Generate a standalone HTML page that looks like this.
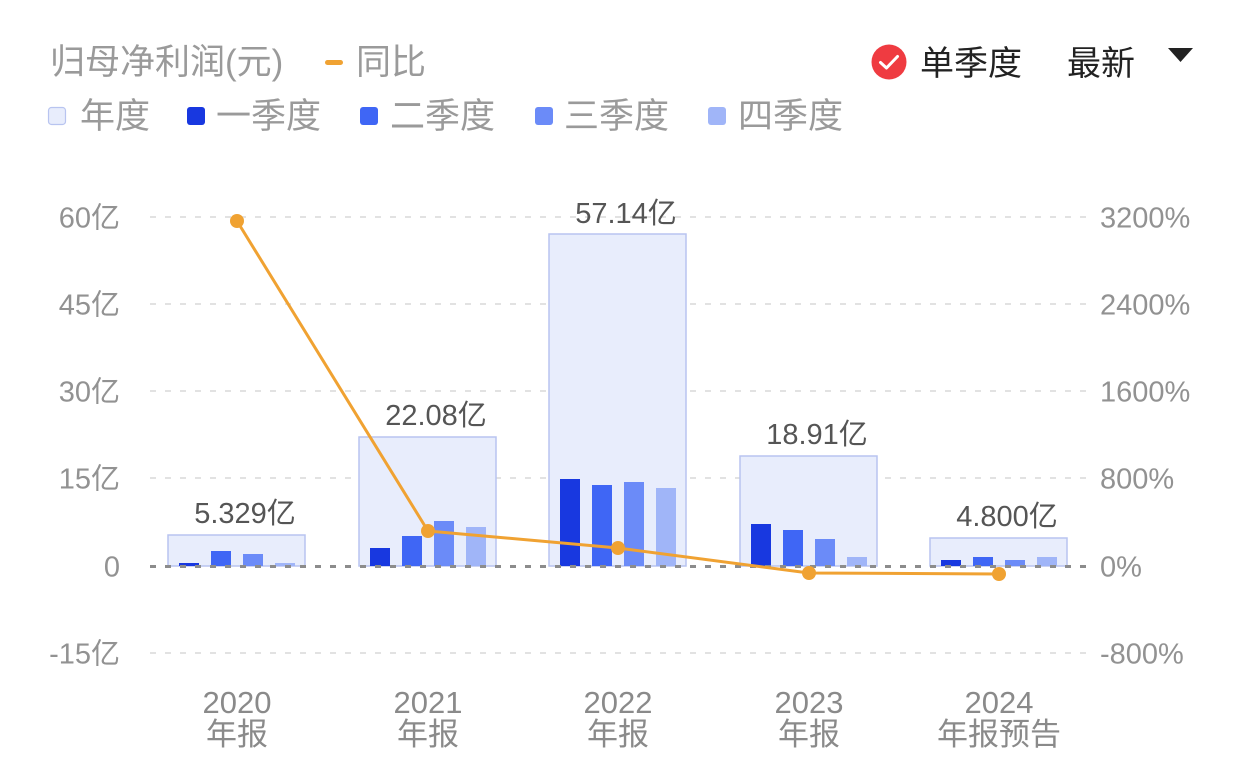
<!DOCTYPE html>
<html><head><meta charset="utf-8"><style>
html,body{margin:0;padding:0;background:#fff;}
svg{display:block;}
text{font-family:"Liberation Sans","Noto Sans CJK SC",sans-serif;}
</style></head><body>
<svg width="1242" height="774" viewBox="0 0 1242 774" xmlns="http://www.w3.org/2000/svg">
<rect width="1242" height="774" fill="#fff"/>
<!-- header -->
<text x="50" y="74" font-size="35" fill="#9a9a9a">归母净利润(元)</text>
<rect x="325" y="60" width="18" height="5" rx="2.5" fill="#F0A232"/>
<text x="356" y="74" font-size="35" fill="#9a9a9a">同比</text>

<rect x="48.5" y="107.5" width="17" height="17" rx="3" fill="#E8EDFC" stroke="#B8C4F0" stroke-width="1.2"/>
<text x="80" y="128" font-size="35" fill="#9a9a9a">年度</text>
<rect x="187" y="107" width="18" height="18" rx="3" fill="#1838E0"/>
<text x="216" y="128" font-size="35" fill="#9a9a9a">一季度</text>
<rect x="360" y="107" width="18" height="18" rx="3" fill="#3F66F5"/>
<text x="390" y="128" font-size="35" fill="#9a9a9a">二季度</text>
<rect x="535" y="107" width="18" height="18" rx="3" fill="#6B8BF8"/>
<text x="564" y="128" font-size="35" fill="#9a9a9a">三季度</text>
<rect x="708" y="107" width="18" height="18" rx="3" fill="#A0B5F8"/>
<text x="738" y="128" font-size="35" fill="#9a9a9a">四季度</text>

<circle cx="889" cy="62" r="17.5" fill="#EF3B41"/>
<path d="M880.5 62.5 L886.5 68 L897.5 56.5" fill="none" stroke="#fff" stroke-width="3" stroke-linecap="round" stroke-linejoin="round"/>
<text x="920" y="75" font-size="34" fill="#222">单季度</text>
<text x="1067" y="75" font-size="34" fill="#222">最新</text>
<path d="M1168 48 L1193 48 L1180.5 62 Z" fill="#222"/>

<!-- grid -->
<g stroke="#E2E2E2" stroke-width="2" stroke-dasharray="6 9">
<line x1="150" y1="217" x2="1087" y2="217"/>
<line x1="150" y1="304" x2="1087" y2="304"/>
<line x1="150" y1="391" x2="1087" y2="391"/>
<line x1="150" y1="478" x2="1087" y2="478"/>
<line x1="150" y1="653" x2="1087" y2="653"/>
</g>

<!-- left axis labels -->
<g font-size="29" fill="#929292" text-anchor="end">
<text x="120" y="227.5">60亿</text>
<text x="120" y="314.5">45亿</text>
<text x="120" y="401.5">30亿</text>
<text x="120" y="488.5">15亿</text>
<text x="120" y="576.5">0</text>
<text x="120" y="663.5">-15亿</text>
</g>
<!-- right axis labels -->
<g font-size="29" fill="#929292">
<text x="1100" y="227.5">3200%</text>
<text x="1100" y="314.5">2400%</text>
<text x="1100" y="401.5">1600%</text>
<text x="1100" y="488.5">800%</text>
<text x="1100" y="576.5">0%</text>
<text x="1100" y="663.5">-800%</text>
</g>

<!-- annual rects -->
<g fill="#E8EDFC" stroke="#B8C4F0" stroke-width="1.5">
<rect x="168" y="535" width="137" height="31"/>
<rect x="359" y="437" width="137" height="129"/>
<rect x="549" y="234" width="137" height="332"/>
<rect x="740" y="456" width="137" height="110"/>
<rect x="930" y="538" width="137" height="28"/>
</g>

<!-- quarter bars -->
<g>
<rect x="179" y="563" width="20" height="3" fill="#1838E0"/>
<rect x="211" y="551" width="20" height="15" fill="#3F66F5"/>
<rect x="243" y="554" width="20" height="12" fill="#6B8BF8"/>
<rect x="275" y="563" width="20" height="3" fill="#A0B5F8"/>

<rect x="370" y="548" width="20" height="18" fill="#1838E0"/>
<rect x="402" y="536" width="20" height="30" fill="#3F66F5"/>
<rect x="434" y="521" width="20" height="45" fill="#6B8BF8"/>
<rect x="466" y="527" width="20" height="39" fill="#A0B5F8"/>

<rect x="560" y="479" width="20" height="87" fill="#1838E0"/>
<rect x="592" y="485" width="20" height="81" fill="#3F66F5"/>
<rect x="624" y="482" width="20" height="84" fill="#6B8BF8"/>
<rect x="656" y="488" width="20" height="78" fill="#A0B5F8"/>

<rect x="751" y="524" width="20" height="42" fill="#1838E0"/>
<rect x="783" y="530" width="20" height="36" fill="#3F66F5"/>
<rect x="815" y="539" width="20" height="27" fill="#6B8BF8"/>
<rect x="847" y="557" width="20" height="9" fill="#A0B5F8"/>

<rect x="941" y="560" width="20" height="6" fill="#1838E0"/>
<rect x="973" y="557" width="20" height="9" fill="#3F66F5"/>
<rect x="1005" y="560" width="20" height="6" fill="#6B8BF8"/>
<rect x="1037" y="557" width="20" height="9" fill="#A0B5F8"/>
</g>

<!-- zero line -->
<line x1="150" y1="566.5" x2="1087" y2="566.5" stroke="#8C8C8C" stroke-width="3" stroke-dasharray="6 9"/>

<!-- value labels -->
<g font-size="29" fill="#555" text-anchor="middle">
<text x="245" y="523">5.329亿</text>
<text x="436" y="425">22.08亿</text>
<text x="626" y="223">57.14亿</text>
<text x="817" y="444">18.91亿</text>
<text x="1007" y="526">4.800亿</text>
</g>

<!-- yoy line -->
<polyline points="237,221 428,531 618,548 809,573 999,574" fill="none" stroke="#F0A232" stroke-width="3" stroke-linejoin="round"/>
<g fill="#F0A232">
<circle cx="237" cy="221" r="7"/>
<circle cx="428" cy="531" r="7"/>
<circle cx="618" cy="548" r="7"/>
<circle cx="809" cy="573" r="7"/>
<circle cx="999" cy="574" r="7"/>
</g>

<!-- x labels -->
<g font-size="31" fill="#8a8a8a" text-anchor="middle">
<text x="237" y="713">2020</text>
<text x="237" y="745">年报</text>
<text x="428" y="713">2021</text>
<text x="428" y="745">年报</text>
<text x="618" y="713">2022</text>
<text x="618" y="745">年报</text>
<text x="809" y="713">2023</text>
<text x="809" y="745">年报</text>
<text x="999" y="713">2024</text>
<text x="999" y="745">年报预告</text>
</g>
</svg>
</body></html>
